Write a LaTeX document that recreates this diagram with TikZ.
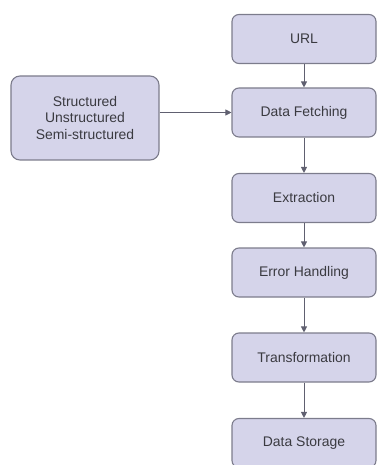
\documentclass[tikz,border=0pt]{standalone}
\usepackage{fontspec}
\setmainfont{Liberation Sans}
\usetikzlibrary{arrows.meta}
\definecolor{boxfill}{HTML}{D5D4EA}
\definecolor{boxline}{HTML}{7C7C8C}
\definecolor{txt}{HTML}{3A3A40}
\definecolor{arr}{HTML}{606070}
\begin{document}
\begin{tikzpicture}[x=1bp,y=-1bp,
  box/.style={draw=boxline, line width=1.1bp, fill=boxfill, rounded corners=7bp,
    minimum width=144bp, minimum height=49bp, text=txt, align=center,
    font=\fontsize{14}{16.5}\selectfont, inner sep=0pt},
  conn/.style={draw=arr, line width=0.9bp, -{Triangle[length=6bp,width=6bp]}}]
\useasboundingbox (0,0) rectangle (378,465);
\begin{scope}
\clip (0,0) rectangle (378,465);
\node[box] (url) at (304,39) {URL};
\node[box] (df) at (304,112.5) {Data Fetching};
\node[box] (ex) at (304,198) {Extraction};
\node[box] (eh) at (304,272.5) {Error Handling};
\node[box] (tr) at (304,357.5) {Transformation};
\node[box] (ds) at (304,443) {Data Storage};
\node[box, minimum width=148bp, minimum height=84bp, rounded corners=9bp] (src) at (85,118) {Structured\\Unstructured\\Semi-structured};
\draw[conn] (url) -- (df);
\draw[conn] (df) -- (ex);
\draw[conn] (ex) -- (eh);
\draw[conn] (eh) -- (tr);
\draw[conn] (tr) -- (ds);
\draw[conn] (src.east |- df.west) -- (df.west);
\end{scope}
\end{tikzpicture}
\end{document}
